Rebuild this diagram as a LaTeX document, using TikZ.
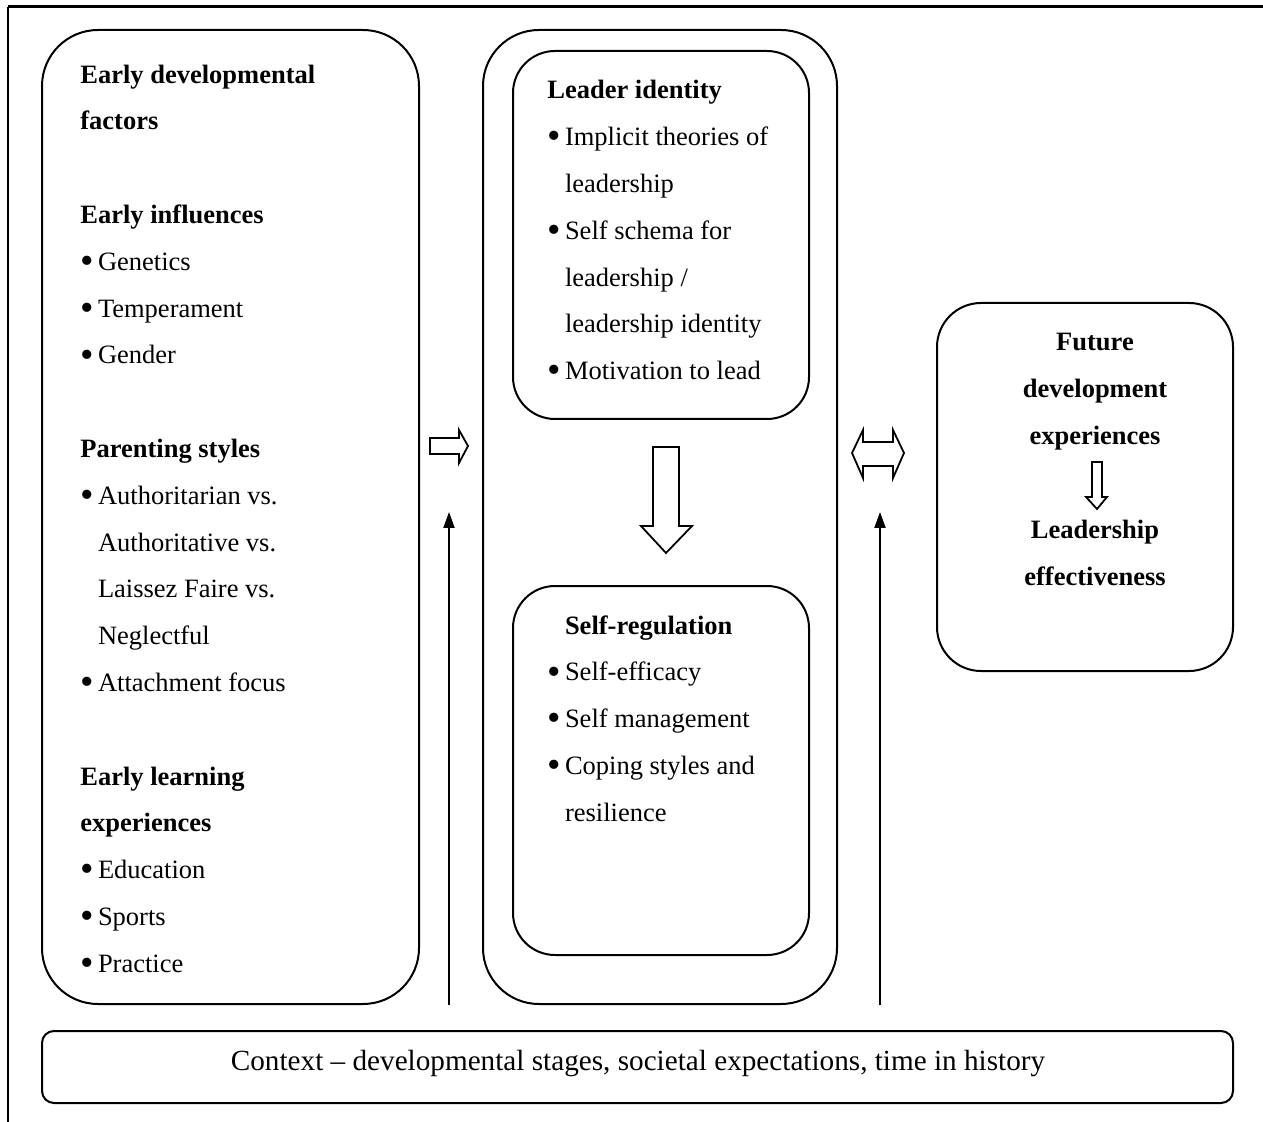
\documentclass[tikz,border=0pt]{standalone}
\usepackage{fontspec}
\setmainfont{Liberation Serif}
\usetikzlibrary{arrows.meta}

\newcommand{\bitem}{\makebox[8.8pt][l]{\raisebox{-1.6pt}{\scalebox{1.45}{\textbullet}}}}
\newcommand{\bind}{\hspace*{8.8pt}}

\tikzset{
  panel/.style={draw, line width=1pt, rounded corners=28pt, inner sep=0pt},
  inpanel/.style={draw, line width=1pt, rounded corners=21pt, inner sep=0pt},
  % base anchor of these multi-line nodes = baseline of the last line
  txt/.style={anchor=base west, inner sep=0pt, align=left,
    font=\fontsize{13.25}{23.4}\selectfont},
  blockarrow/.style={draw, line width=0.9pt, fill=white, line join=miter},
  uparrow/.style={line width=1pt, -{Triangle[length=8pt,width=5.5pt]}},
}

\begin{document}
\begin{tikzpicture}[x=0.5pt, y=-0.5pt]
    \useasboundingbox (0,0) rectangle (1263,1122);

    % 1. Frame
    \draw[line width=1.5pt] (8,7) -- (1263,7);
    \draw[line width=1pt] (8,7) -- (8,1122);

    % 2. Boxes
    \node[panel, minimum width=188.5pt, minimum height=487pt] (early) at (230.5,517) {};
    \node[panel, minimum width=177pt, minimum height=487pt] (self) at (660,517) {};
    \node[inpanel, minimum width=148pt, minimum height=184pt] (ident) at (661,235) {};
    \node[inpanel, minimum width=148pt, minimum height=184.5pt] (regul) at (661,770.5) {};
    \node[inpanel, rounded corners=22pt, minimum width=148pt, minimum height=184pt] (future) at (1085,487) {};
    \node[draw, line width=1pt, rounded corners=6pt, minimum width=595.5pt, minimum height=36pt] (context) at (637.5,1067) {};

    % 3. Texts (placed at the last line's baseline)
    \node[txt] (earlytxt) at (80,972.2) {%
        \textbf{Early developmental}\\
        \textbf{factors}\\
        \mbox{}\\
        \textbf{Early influences}\\
        \bitem Genetics\\
        \bitem Temperament\\
        \bitem Gender\\
        \mbox{}\\
        \textbf{Parenting styles}\\
        \bitem Authoritarian vs.\\
        \bind Authoritative vs.\\
        \bind Laissez Faire vs.\\
        \bind Neglectful\\
        \bitem Attachment focus\\
        \mbox{}\\
        \textbf{Early learning}\\
        \textbf{experiences}\\
        \bitem Education\\
        \bitem Sports\\
        \bitem Practice};

    \node[txt] (identtxt) at (547,379.8) {%
        \textbf{Leader identity}\\
        \bitem Implicit theories of\\
        \bind leadership\\
        \bitem Self schema for\\
        \bind leadership /\\
        \bind leadership identity\\
        \bitem Motivation to lead};

    \node[txt] (regultxt) at (547,821.2) {%
        \bind\textbf{Self-regulation}\\
        \bitem Self-efficacy\\
        \bitem Self management\\
        \bitem Coping styles and\\
        \bind resilience};

    \node[txt, anchor=base, align=center] (futuretxt) at (1095,585) {%
        \textbf{Future}\\
        \textbf{development}\\
        \textbf{experiences}\\
        \mbox{}\\
        \textbf{Leadership}\\
        \textbf{effectiveness}};

    \node[txt, anchor=base, font=\fontsize{14.6}{18}\selectfont] (contexttxt) at (638,1070)
        {Context -- developmental stages, societal expectations, time in history};

    % 4. Block arrows
    \draw[blockarrow] (430,438) -- (459,438) -- (459,430) -- (468,446)
        -- (459,463) -- (459,454) -- (430,454) -- cycle;
    \draw[blockarrow] (852,453) -- (863,430) -- (863,442) -- (893,442)
        -- (893,430) -- (904,453) -- (893,478) -- (893,466)
        -- (863,466) -- (863,478) -- cycle;
    \draw[blockarrow] (653,447) -- (679,447) -- (679,526) -- (692,526)
        -- (666,553) -- (641,526) -- (653,526) -- cycle;
    \draw[blockarrow] (1092,462) -- (1102,462) -- (1102,497) -- (1107,497)
        -- (1097,509) -- (1086,497) -- (1092,497) -- cycle;

    % 5. Context arrows
    \coordinate (ctxA) at (449,1005);
    \coordinate (ctxB) at (880,1005);
    \foreach \p in {ctxA, ctxB}
        \draw[uparrow] (\p) -- ++(0,-493);
\end{tikzpicture}
\end{document}
